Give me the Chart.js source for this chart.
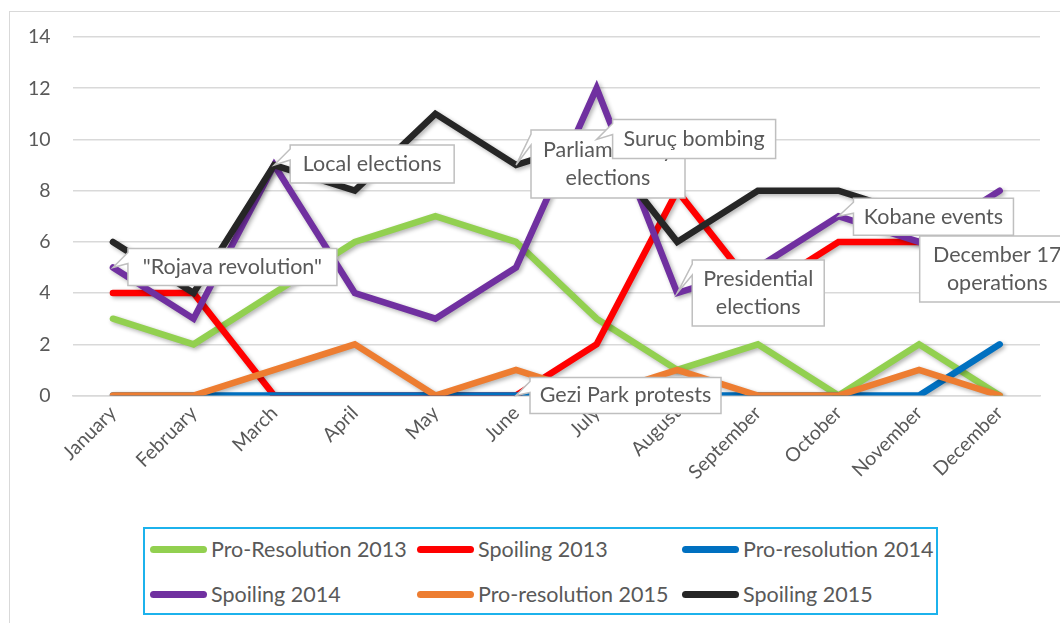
<!DOCTYPE html>
<html>
<head>
<meta charset="utf-8">
<script src="https://cdn.jsdelivr.net/npm/chart.js@4.4.1/dist/chart.umd.min.js"></script>
<style>
  html, body { margin: 0; padding: 0; background: #fff; overflow: hidden; }
  #wrap { position: relative; width: 1060px; height: 623px; }
  #frame { position: absolute; left: 9px; top: 11px; width: 1100px; height: 700px; border: 1px solid #d9d9d9; }
  canvas { position: absolute; left: 0; top: 0; }
  #legend {
    position: absolute; left: 143px; top: 527px; width: 791px; height: 84px;
    border: 2px solid #1cb2ec; background: #fff;
    font-family: Lato, "Open Sans", sans-serif; font-size: 21.5px; color: #595959;
  }
  .item { position: absolute; display: flex; align-items: center; white-space: nowrap; }
  .swatch { width: 57px; height: 7px; border-radius: 3.5px; margin-right: 4px; }
</style>
</head>
<body>
<div id="wrap">
  <div id="frame"></div>
  <canvas id="eventsChart" width="1060" height="623"></canvas>
  <div id="legend"></div>
</div>
<script>
const months = ['January', 'February', 'March', 'April', 'May', 'June',
  'July', 'August', 'September', 'October', 'November', 'December'];

const proResolution2013 = [3, 2, 4, 6, 7, 6, 3, 1, 2, 0, 2, 0];
const spoiling2013 = [4, 4, 0, 0, 0, 0, 2, 8, 4, 6, 6, 6];
const proResolution2014 = [0, 0, 0, 0, 0, 0, 0, 0, 0, 0, 0, 2];
const spoiling2014 = [5, 3, 9, 4, 3, 5, 12, 4, 5, 7, 6, 8];
const proResolution2015 = [0, 0, 1, 2, 0, 1, 0, 1, 0, 0, 1, 0];
const spoiling2015 = [6, 4, 9, 8, 11, 9, 10, 6, 8, 8, 7, 7];

const seriesNames = ['Pro-Resolution 2013', 'Spoiling 2013', 'Pro-resolution 2014',
  'Spoiling 2014', 'Pro-resolution 2015', 'Spoiling 2015'];
const seriesColors = ['#92d050', '#ff0000', '#0070c0', '#7030a0', '#ed7d31', '#262626'];
const seriesData = [proResolution2013, spoiling2013, proResolution2014,
  spoiling2014, proResolution2015, spoiling2015];

// event notes: series index, month index, box offset from the point
const callouts = [
  { lines: ['"Rojava revolution"'], ds: 3, i: 0, dx: 15, dy: -19, w: 209, h: 37 },
  { lines: ['Local elections'], ds: 3, i: 2, dx: 16, dy: -20, w: 164, h: 38 },
  { lines: ['Parliamentary', 'elections'], ds: 5, i: 5, dx: 15, dy: -35, w: 154, h: 68 },
  { lines: ['Suruç bombing'], ds: 5, i: 6, dx: 16, dy: -20, w: 163, h: 39 },
  { lines: ['Presidential', 'elections'], ds: 3, i: 7, dx: 15, dy: -33, w: 132, h: 66 },
  { lines: ['Kobane events'], ds: 3, i: 9, dx: 15, dy: -18, w: 160, h: 37 },
  { lines: ['December 17', 'operations'], ds: 1, i: 11, dx: -80, dy: -6, w: 155, h: 66 },
  { lines: ['Gezi Park protests'], ds: 1, i: 5, dx: 14, dy: -18, w: 191, h: 36 }
];

const FONT = 'Lato, "Open Sans", sans-serif';

const lineShadow = {
  id: 'lineShadow',
  beforeDatasetsDraw(chart) {
    const ctx = chart.ctx;
    ctx.save();
    ctx.shadowColor = 'rgba(0,0,0,0.3)';
    ctx.shadowBlur = 4;
    ctx.shadowOffsetX = 2;
    ctx.shadowOffsetY = 2;
  },
  afterDatasetsDraw(chart) {
    chart.ctx.restore();
  }
};

const calloutBoxes = {
  id: 'calloutBoxes',
  afterDatasetsDraw(chart) {
    const ctx = chart.ctx;
    ctx.save();
    callouts.forEach(c => {
      const pt = chart.getDatasetMeta(c.ds).data[c.i];
      const ax = pt.x, ay = pt.y;
      const x = ax + c.dx, y = ay + c.dy;
      const inside = ax >= x && ax <= x + c.w && ay >= y && ay <= y + c.h;
      ctx.beginPath();
      ctx.moveTo(x, y);
      ctx.lineTo(x + c.w, y);
      ctx.lineTo(x + c.w, y + c.h);
      ctx.lineTo(x, y + c.h);
      if (!inside) {
        ctx.lineTo(x, y + 15);
        ctx.lineTo(ax, ay);
        ctx.lineTo(x, y + 4);
      }
      ctx.closePath();
      ctx.fillStyle = '#ffffff';
      ctx.fill();
      ctx.lineWidth = 1.5;
      ctx.strokeStyle = '#bfbfbf';
      ctx.stroke();
      ctx.fillStyle = '#595959';
      ctx.font = '21.5px ' + FONT;
      ctx.textAlign = 'center';
      ctx.textBaseline = 'middle';
      const lh = 28;
      const top = y + c.h / 2 - (c.lines.length - 1) * lh / 2;
      c.lines.forEach((t, k) => ctx.fillText(t, x + c.w / 2, top + k * lh));
    });
    ctx.restore();
  }
};

const ctx = document.getElementById('eventsChart').getContext('2d');
const eventsChart = new Chart(ctx, {
  type: 'line',
  data: {
    labels: months,
    datasets: seriesData.map((d, k) => ({
      label: seriesNames[k],
      data: d,
      borderColor: seriesColors[k],
      backgroundColor: seriesColors[k],
      borderWidth: 6.5,
      borderJoinStyle: 'miter',
      borderCapStyle: 'round',
      pointRadius: 0,
      tension: 0,
      order: seriesData.length - k
    }))
  },
  options: {
    responsive: false,
    animation: false,
    layout: { padding: { left: 6, right: 20, top: 37, bottom: 133 } },
    plugins: {
      legend: { display: false },
      tooltip: { enabled: false }
    },
    scales: {
      x: {
        offset: true,
        grid: { display: false, drawTicks: false },
        border: { color: '#d9d9d9', width: 1.5 },
        ticks: {
          color: '#595959', font: { family: FONT, size: 19.5 },
          minRotation: 45, maxRotation: 45, padding: 6
        }
      },
      y: {
        min: 0, max: 14,
        grid: { color: '#d9d9d9', lineWidth: 1.5, drawTicks: false },
        border: { display: false },
        ticks: { stepSize: 2, color: '#595959', font: { family: FONT, size: 19.5 }, padding: 22 }
      }
    }
  },
  plugins: [lineShadow, calloutBoxes]
});

// legend laid out in three fixed columns
const legendCols = [5, 272, 537];
const legendRows = [20, 65];
const legendEl = document.getElementById('legend');
eventsChart.data.datasets.forEach((ds, k) => {
  const item = document.createElement('div');
  item.className = 'item';
  item.style.left = legendCols[k % 3] + 'px';
  item.style.top = (legendRows[Math.floor(k / 3)] - 13) + 'px';
  item.style.height = '26px';
  const sw = document.createElement('span');
  sw.className = 'swatch';
  sw.style.background = ds.borderColor;
  const tx = document.createElement('span');
  tx.textContent = ds.label;
  item.appendChild(sw);
  item.appendChild(tx);
  legendEl.appendChild(item);
});
</script>
</body>
</html>
